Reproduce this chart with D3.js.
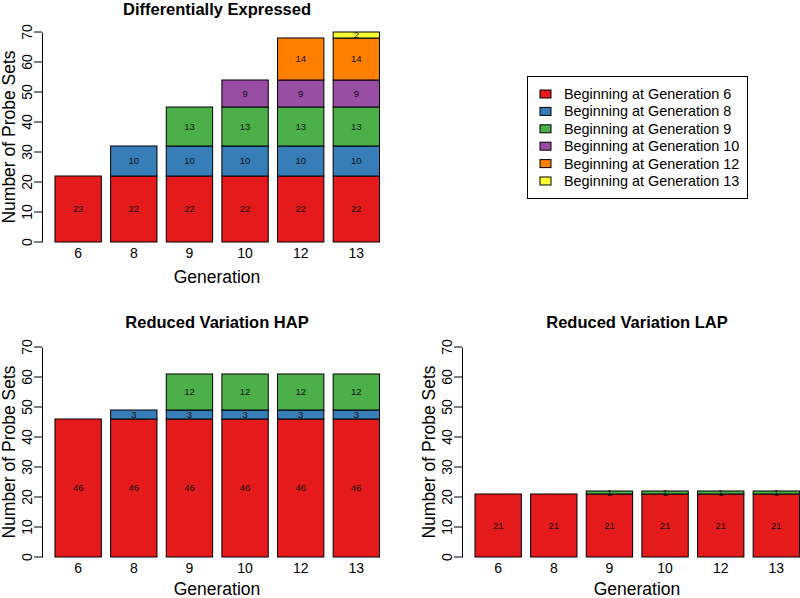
<!DOCTYPE html>
<html><head><meta charset="utf-8">
<script src="https://cdn.jsdelivr.net/npm/d3@7"></script>
<style>body{margin:0;background:#fff}svg{display:block;font-family:"Liberation Sans",Arial,sans-serif}</style>
</head><body><svg id="c" width="800" height="598"></svg>
<script>
const generations = ["6","8","9","10","12","13"];
const seriesNames = ["Beginning at Generation 6","Beginning at Generation 8","Beginning at Generation 9","Beginning at Generation 10","Beginning at Generation 12","Beginning at Generation 13"];
const colors = ["#E41A1C","#377EB8","#4DAF4A","#984EA3","#FF7F00","#FFFF33"];
const yTicks = [0,10,20,30,40,50,60,70];

// Differentially Expressed
const deGen6  = [22,22,22,22,22,22];
const deGen8  = [0,10,10,10,10,10];
const deGen9  = [0,0,13,13,13,13];
const deGen10 = [0,0,0,9,9,9];
const deGen12 = [0,0,0,0,14,14];
const deGen13 = [0,0,0,0,0,2];
// Reduced Variation HAP
const hapGen6 = [46,46,46,46,46,46];
const hapGen8 = [0,3,3,3,3,3];
const hapGen9 = [0,0,12,12,12,12];
// Reduced Variation LAP
const lapGen6 = [21,21,21,21,21,21];
const lapGen9 = [0,0,1,1,1,1];

const zeros = [0,0,0,0,0,0];
const svg = d3.select("#c");

function panel(opts){
  const {title, series, left, bottom, titleX, xTitleOffset, titleOffset} = opts;
  const g = svg.append("g");
  const x = d3.scaleBand().domain(generations).range([left+8.35, left+342.15]).paddingInner(1/6).paddingOuter(1/12);
  const y = d3.scaleLinear().domain([0,70]).range([bottom, bottom-210]);
  const table = generations.map((gen,i)=>{const o={gen}; series.forEach((s,k)=>o["s"+k]=s[i]); return o;});
  const keys = series.map((s,k)=>"s"+k);
  const stacked = d3.stack().keys(keys)(table);
  stacked.forEach((layer,k)=>{
    layer.forEach(d=>{
      const v = d[1]-d[0];
      if(v<=0) return;
      g.append("rect").attr("x",x(d.data.gen)).attr("width",x.bandwidth())
        .attr("y",y(d[1])).attr("height",y(d[0])-y(d[1]))
        .attr("fill",colors[k]).attr("stroke","#000").attr("stroke-width",1);
    });
  });
  stacked.forEach((layer,k)=>{
    layer.forEach(d=>{
      const v = d[1]-d[0];
      if(v<=0) return;
      g.append("text").attr("x",x(d.data.gen)+x.bandwidth()/2).attr("y",y((d[0]+d[1])/2)+3.3)
        .attr("text-anchor","middle").attr("font-size",9.5).attr("fill","#111").text(v);
    });
  });
  // y axis
  const ax = g.append("g").attr("transform",`translate(${left},0)`)
    .call(d3.axisLeft(y).tickValues(yTicks).tickSize(8).tickSizeOuter(0).tickPadding(2));
  ax.select(".domain").attr("stroke","#000");
  ax.selectAll(".tick line").attr("stroke","#000");
  ax.selectAll(".tick text").attr("font-size",14).attr("fill","#000")
    .attr("text-anchor","middle").attr("dy",0)
    .attr("transform",d=>`translate(${-10},${y(d)}) rotate(-90)`).attr("x",0).attr("y",0);
  ax.selectAll(".tick").attr("transform",null);
  ax.selectAll(".tick line").attr("y1",d=>y(d)).attr("y2",d=>y(d));
  ax.attr("font-family",null);
  // x labels
  generations.forEach(gen=>{
    g.append("text").attr("x",x(gen)+x.bandwidth()/2).attr("y",bottom+16)
      .attr("text-anchor","middle").attr("font-size",14).text(gen);
  });
  g.append("text").attr("x",titleX).attr("y",bottom+xTitleOffset).attr("text-anchor","middle").attr("font-size",17.5).text("Generation");
  g.append("text").attr("transform",`translate(${left-27},${bottom-105}) rotate(-90)`)
    .attr("text-anchor","middle").attr("font-size",17.5).text("Number of Probe Sets");
  g.append("text").attr("x",titleX).attr("y",bottom-titleOffset).attr("text-anchor","middle")
    .attr("font-size",16.5).attr("font-weight","bold").text(title);
}

panel({title:"Differentially Expressed", series:[deGen6,deGen8,deGen9,deGen10,deGen12,deGen13], left:42, bottom:242, titleX:217, xTitleOffset:41, titleOffset:227});
panel({title:"Reduced Variation HAP", series:[hapGen6,hapGen8,hapGen9], left:42, bottom:557, titleX:217, xTitleOffset:38, titleOffset:229});
panel({title:"Reduced Variation LAP", series:[lapGen6,zeros,lapGen9], left:462, bottom:557, titleX:637, xTitleOffset:38, titleOffset:229});

// legend
const lg = svg.append("g");
lg.append("rect").attr("x",527.5).attr("y",76.5).attr("width",220).attr("height",122).attr("fill","#fff").attr("stroke","#000");
seriesNames.forEach((n,i)=>{
  const cy = 94 + i*17.4;
  lg.append("rect").attr("x",540).attr("y",cy-4).attr("width",11).attr("height",8).attr("fill",colors[i]).attr("stroke","#000");
  lg.append("text").attr("x",564).attr("y",cy+5).attr("font-size",14.4).text(n);
});
</script></body></html>
